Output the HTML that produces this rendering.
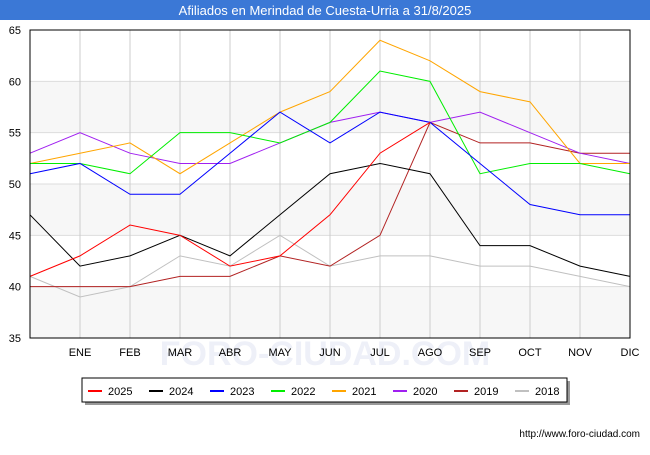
<!DOCTYPE html>
<html><head><meta charset="utf-8"><style>
body{margin:0;background:#fff;font-family:"Liberation Sans",sans-serif}
</style></head><body>
<svg width="650" height="450" xmlns="http://www.w3.org/2000/svg" font-family="Liberation Sans, sans-serif">
<rect x="0" y="0" width="650" height="20" fill="#3b78d6"/>
<text x="325" y="15" text-anchor="middle" fill="#fff" font-size="13">Afiliados en Merindad de Cuesta-Urria a 31/8/2025</text>
<g id="grid"></g>
<text x="325" y="365" text-anchor="middle" font-size="34" fill="#eef0f8" font-weight="bold">FORO-CIUDAD.COM</text>
<g id="lines"></g>
<rect x="30" y="30" width="600" height="308" fill="none" stroke="#000"/>
<g id="axes"></g>
<rect x="85" y="381" width="485" height="24" fill="#999"/>
<rect x="82" y="378" width="485" height="24" fill="#fff" stroke="#000"/>
<g id="legend"></g>
<text x="640" y="437" text-anchor="end" font-size="10" fill="#000">http://www.foro-ciudad.com</text>
</svg>
<script>
const categories=["","ENE","FEB","MAR","ABR","MAY","JUN","JUL","AGO","SEP","OCT","NOV","DIC"];
const yTicks=[35,40,45,50,55,60,65];
const seriesNames=["2025","2024","2023","2022","2021","2020","2019","2018"];
const seriesColors=["#ff0000","#000000","#0000ff","#00ee00","#ffa500","#a020f0","#b22222","#c0c0c0"];
const s2025=[41,43,46,45,42,43,47,53,56];
const s2024=[47,42,43,45,43,47,51,52,51,44,44,42,41];
const s2023=[51,52,49,49,53,57,54,57,56,52,48,47,47];
const s2022=[52,52,51,55,55,54,56,61,60,51,52,52,51];
const s2021=[52,53,54,51,54,57,59,64,62,59,58,52,52];
const s2020=[53,55,53,52,52,54,56,57,56,57,55,53,52];
const s2019=[40,40,40,41,41,43,42,45,56,54,54,53,53];
const s2018=[41,39,40,43,42,45,42,43,43,42,42,41,40];
const allSeries=[s2025,s2024,s2023,s2022,s2021,s2020,s2019,s2018];
const NS="http://www.w3.org/2000/svg";
const X=i=>30+i*50, Y=v=>338-(v-35)*308/30;
function mk(t,a,p){const e=document.createElementNS(NS,t);for(const k in a)e.setAttribute(k,a[k]);p.appendChild(e);return e;}
const grid=document.getElementById('grid'),axes=document.getElementById('axes'),lines=document.getElementById('lines'),leg=document.getElementById('legend');
for(let k=0;k<yTicks.length-1;k++){
 if(k%2===0){const r=mk('rect',{x:30,y:Y(yTicks[k+1]),width:600,height:Y(yTicks[k])-Y(yTicks[k+1]),fill:'#f7f7f7'},grid);
 
 }
}
yTicks.forEach(v=>{
 const l=mk('line',{x1:30,x2:630,y1:Y(v),y2:Y(v),stroke:'#ddd'},grid);
 
 
 const t=mk('text',{x:21,y:Y(v)+4,'text-anchor':'end','font-size':11},axes);t.textContent=v;
 
 
});
categories.forEach((c,i)=>{
 if(i>0){const l=mk('line',{x1:X(i),x2:X(i),y1:30,y2:338,stroke:'#ccc'},grid);
 
 }
 const t=mk('text',{x:X(i),y:356,'text-anchor':'middle','font-size':11},axes);t.textContent=c;
 
 
});
for(let s=allSeries.length-1;s>=0;s--){
 const p=mk('polyline',{points:allSeries[s].map((v,i)=>X(i)+','+Y(v)).join(' '),fill:'none',stroke:seriesColors[s],'stroke-width':1},lines);
 
 
}
seriesNames.forEach((n,i)=>{
 const x0=88+i*61;
 const l=mk('line',{x1:x0,x2:x0+14,y1:391,y2:391,stroke:seriesColors[i],'stroke-width':2},leg);
 
 
 const t=mk('text',{x:x0+20,y:395,'font-size':11},leg);t.textContent=n;
 
 
});
</script>
</body></html>
